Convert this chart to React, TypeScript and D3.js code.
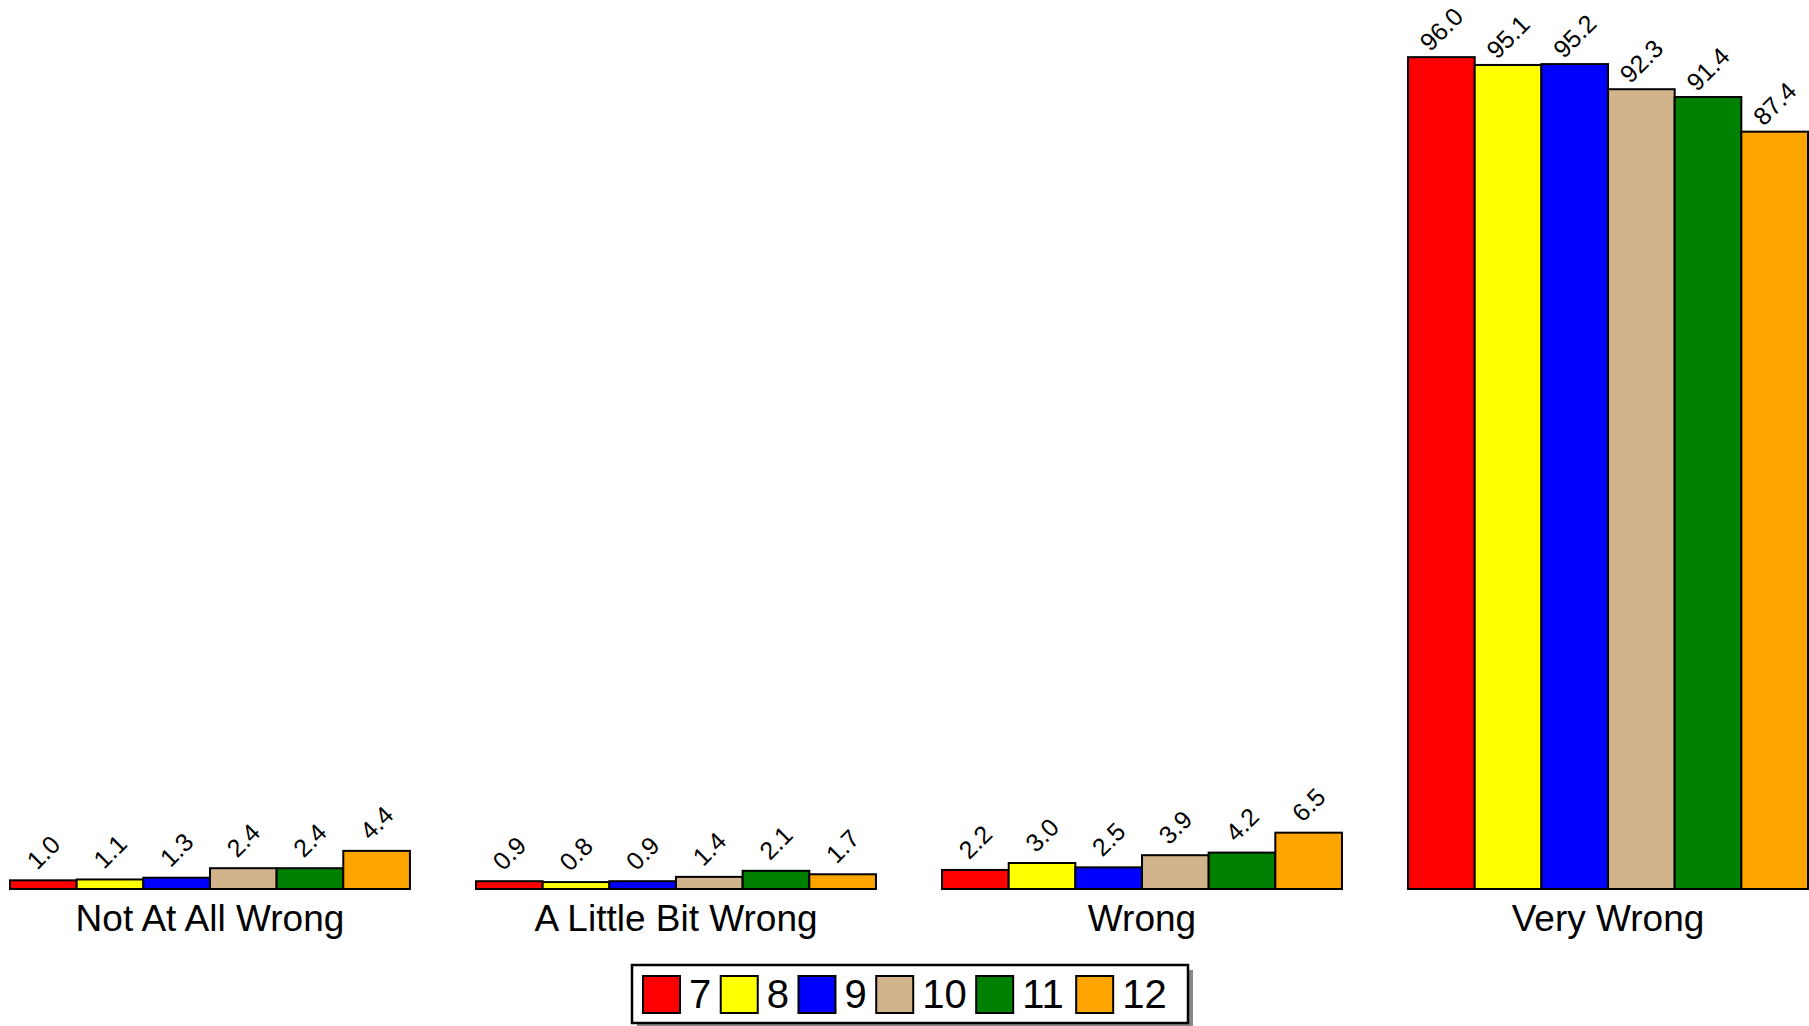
import React from "react";
import * as d3 from "d3";

const categories = ["Not At All Wrong", "A Little Bit Wrong", "Wrong", "Very Wrong"];
const seriesNames = ["7", "8", "9", "10", "11", "12"];
const seriesColors = ["#FF0000", "#FFFF00", "#0000FF", "#D2B48C", "#008000", "#FFA500"];
const grade7 = [1.0, 0.9, 2.2, 96.0];
const grade8 = [1.1, 0.8, 3.0, 95.1];
const grade9 = [1.3, 0.9, 2.5, 95.2];
const grade10 = [2.4, 1.4, 3.9, 92.3];
const grade11 = [2.4, 2.1, 4.2, 91.4];
const grade12 = [4.4, 1.7, 6.5, 87.4];
const seriesValues = [grade7, grade8, grade9, grade10, grade11, grade12];

const W = 1809;
const H = 1026;
const FONT = "'Liberation Sans', Arial, sans-serif";

export default function App() {
  const x0 = d3.scaleBand<string>().domain(categories).range([10, 1808]).paddingInner(0.1418).paddingOuter(0);
  const x1 = d3.scaleBand<string>().domain(seriesNames).range([0, x0.bandwidth()]).padding(0);
  const y = d3.scaleLinear().domain([0, 100]).range([889, 22.5]);

  // legend layout
  const legFont = 40;
  const sw = 37;
  const legItems: { x: number; tx: number; name: string; color: string }[] = [];
  let cx = 643;
  seriesNames.forEach((n, i) => {
    const tw = n.length * 0.556 * legFont;
    legItems.push({ x: cx, tx: cx + sw + 9, name: n, color: seriesColors[i] });
    cx += sw + 9 + tw + 9.5;
  });
  const legX = 632, legY = 965, legW = 556, legH = 58;

  return (
    <svg
      width={W}
      height={H}
      style={{ position: "absolute", left: 0, top: 0, display: "block", background: "#fff" }}
      fontFamily={FONT}
    >
      <rect x={0} y={0} width={W} height={H} fill="#fff" />
      {categories.map((c, ci) => (
        <g key={c} transform={`translate(${x0(c)},0)`}>
          {seriesNames.map((s, si) => {
            const v = seriesValues[si][ci];
            const bx = x1(s)!;
            const bw = x1.bandwidth();
            return (
              <rect
                key={s}
                x={bx}
                y={y(v)}
                width={bw}
                height={y(0) - y(v)}
                fill={seriesColors[si]}
                stroke="#000"
                strokeWidth={2}
              />
            );
          })}
          {seriesNames.map((s, si) => {
            const v = seriesValues[si][ci];
            const tx = x1(s)! + x1.bandwidth() / 2;
            const ty = y(v) - 28;
            return (
              <text
                key={"l" + s}
                transform={`translate(${tx},${ty}) rotate(-45)`}
                textAnchor="middle"
                dy="0.35em"
                fontSize={25}
                fill="#000"
              >
                {v.toFixed(1)}
              </text>
            );
          })}
          <text x={x0.bandwidth() / 2} y={931} textAnchor="middle" fontSize={37} fill="#000">
            {c}
          </text>
        </g>
      ))}
      <g>
        <rect x={legX + 5} y={legY + 5} width={legW} height={legH} fill="#888" />
        <rect x={legX} y={legY} width={legW} height={legH} fill="#fff" stroke="#000" strokeWidth={2.5} />
        {legItems.map((it) => (
          <g key={it.name}>
            <rect x={it.x} y={976} width={sw} height={37} fill={it.color} stroke="#000" strokeWidth={2} />
            <text x={it.tx} y={1008} fontSize={legFont} fill="#000">
              {it.name}
            </text>
          </g>
        ))}
      </g>
    </svg>
  );
}
